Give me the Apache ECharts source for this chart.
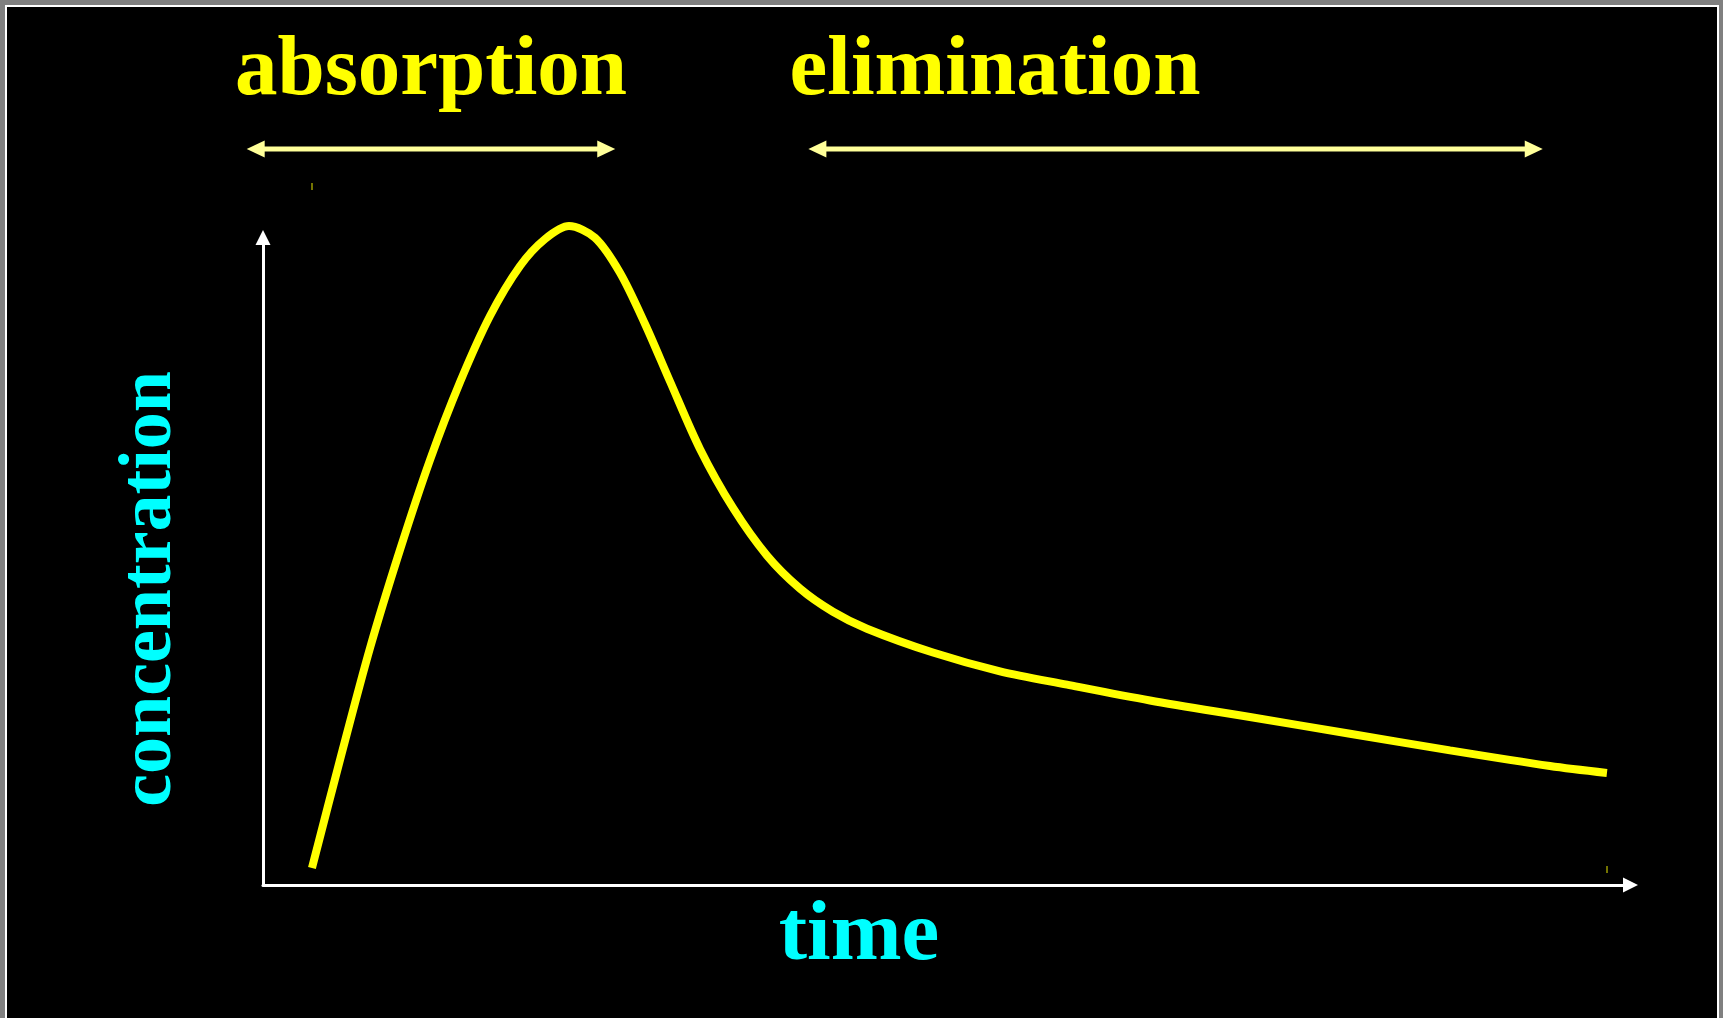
<!DOCTYPE html>
<html>
<head>
<meta charset="utf-8">
<title>concentration vs time</title>
<script src="https://cdn.jsdelivr.net/npm/echarts@6/dist/echarts.min.js"></script>
<style>
    html, body { margin: 0; padding: 0; background: #000; }
    #main { width: 1723px; height: 1018px; }
</style>
</head>
<body>
<div id="main"></div>
<script>
// curve, arbitrary units (axes run 0..100)
var time = [3.60, 5.66, 7.87, 10.07, 12.28, 14.49, 16.69, 18.90, 20.74, 22.50,
    24.41, 26.25, 28.09, 29.93, 32.13, 34.56, 37.06, 39.49, 41.91, 44.41,
    49.26, 54.19, 59.12, 65.22, 72.57, 79.93, 87.28, 94.63, 98.82];
var conc = [2.66, 19.53, 37.03, 52.34, 66.41, 78.59, 88.91, 96.72, 100.94, 102.97,
    101.14, 95.67, 87.66, 78.67, 68.13, 58.91, 51.47, 46.31, 42.70, 40.05,
    36.33, 33.39, 31.30, 28.83, 26.25, 23.64, 21.03, 18.59, 17.50];

// phases shown as double arrows above the plot (time units)
var phaseNames = ['absorption', 'elimination'];
var phaseStart = [-1.2, 40.1];
var phaseEnd = [25.9, 94.1];
var phaseLevel = 115;

var SERIF = '"Liberation Serif", "Times New Roman", serif';

var chart = echarts.init(document.getElementById('main'));

var axisLine = {
    show: true,
    symbol: ['none', 'triangle'],
    symbolSize: [15, 15],
    symbolOffset: [0, 7.5],
    lineStyle: { color: '#fff', width: 3 }
};

chart.setOption({
    backgroundColor: '#000',
    animation: false,
    grid: { left: 263, top: 245, right: 100, bottom: 133 },
    xAxis: {
        type: 'value', min: 0, max: 100,
        axisLine: axisLine,
        axisTick: { show: false },
        axisLabel: { show: false },
        splitLine: { show: false }
    },
    yAxis: {
        type: 'value', min: 0, max: 100,
        axisLine: axisLine,
        axisTick: { show: false },
        axisLabel: { show: false },
        splitLine: { show: false }
    },
    series: [{
        type: 'line',
        data: time.map(function (t, i) { return [t, conc[i]]; }),
        smooth: 0.3,
        showSymbol: false,
        clip: false,
        lineStyle: { color: '#ffff00', width: 8, cap: 'butt' }
    }]
});

// annotations, positioned through the axes
function px(t, c) { return chart.convertToPixel({ gridIndex: 0 }, [t, c]); }

var g = [
    // slide frame
    { type: 'rect', z: 100, shape: { x: 0, y: 0, width: 1723, height: 1200 },
      style: { fill: null, stroke: '#808080', lineWidth: 10 } },
    { type: 'rect', z: 100, shape: { x: 6, y: 6, width: 1712, height: 1200 },
      style: { fill: null, stroke: '#fff', lineWidth: 2 } }
];

var arrowColor = '#ffff99';
phaseNames.forEach(function (name, i) {
    var a = px(phaseStart[i], phaseLevel);
    var b = px(phaseEnd[i], phaseLevel);
    var y = a[1];
    g.push({ type: 'line', shape: { x1: a[0] + 14, y1: y, x2: b[0] - 14, y2: y },
        style: { stroke: arrowColor, lineWidth: 5 } });
    g.push({ type: 'polygon', shape: { points: [[a[0], y], [a[0] + 18, y - 8.5], [a[0] + 18, y + 8.5]] },
        style: { fill: arrowColor } });
    g.push({ type: 'polygon', shape: { points: [[b[0], y], [b[0] - 18, y - 8.5], [b[0] - 18, y + 8.5]] },
        style: { fill: arrowColor } });
});

function label(text, x, y, size, color, rot) {
    return {
        type: 'text', x: x, y: y, rotation: rot || 0,
        style: {
            text: text, fill: color,
            font: 'bold ' + size + 'px ' + SERIF,
            textAlign: 'center', textVerticalAlign: 'middle',
            align: 'center', verticalAlign: 'middle'
        }
    };
}
g.push(label('absorption', 431, 72, 85, '#ffff00'));
g.push(label('elimination', 995, 72, 85, '#ffff00'));
g.push(label('time', 859, 937, 85, '#00ffff'));
g.push(label('concentration', 151, 589, 74, '#00ffff', Math.PI / 2));

// the two stray corner ticks seen in the original slide
g.push({ type: 'rect', shape: { x: 311.5, y: 183, width: 1, height: 7 }, style: { fill: '#e6e600' } });
g.push({ type: 'rect', shape: { x: 1606.5, y: 866, width: 1, height: 7 }, style: { fill: '#e6e600' } });

chart.setOption({ graphic: g });
</script>
</body>
</html>
